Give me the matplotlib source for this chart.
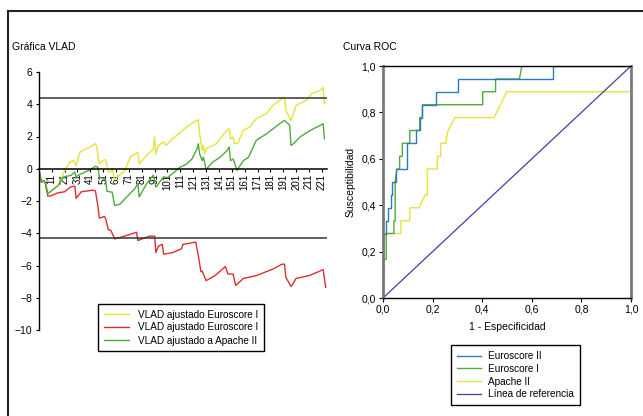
import matplotlib
matplotlib.use('Agg')
import matplotlib.pyplot as plt
from matplotlib.lines import Line2D

plt.rcParams['font.family'] = ['Liberation Sans', 'DejaVu Sans']
plt.rcParams['axes.unicode_minus'] = True

# VLAD curves (patient index -> cumulative value), vertices only
vlad_euro_idx = [1, 3, 5, 6, 8, 16, 18, 20, 25, 28,
                 30, 33, 43, 45, 46, 48, 51, 53, 55, 57,
                 58, 60, 68, 72, 78, 79, 85, 90, 91, 92,
                 94, 98, 100, 105, 116, 123, 125, 126, 128, 129,
                 130, 131, 139, 147, 149, 150, 152, 153, 156, 157,
                 160, 165, 170, 178, 183, 188, 192, 193, 197, 201,
                 209, 213, 220, 222, 223, 224]
vlad_euro_val = [0, -0.83, -0.72, -0.83, -1.55, -1.04, -0.75, -0.31, 0.41, 0.52,
                 0.2, 1.03, 1.45, 1.55, 1.35, 0.3, 0.52, 0.56, -0.2, -0.2,
                 0.0, -0.68, -0.1, 0.72, 1.03, 0.31, 0.83, 1.24, 1.97, 0.93,
                 1.45, 1.66, 1.45, 1.86, 2.59, 2.96, 3.04, 2.17, 1.14, 1.45,
                 0.93, 1.24, 1.55, 2.38, 2.48, 1.86, 1.97, 1.55, 1.6, 1.86,
                 2.38, 2.59, 3.1, 3.42, 3.93, 4.24, 4.45, 3.62, 3.0, 3.93,
                 4.24, 4.66, 4.87, 5.03, 4.04, 4.1]

vlad_red_idx = [1, 3, 5, 6, 8, 10, 16, 21, 26, 29,
                30, 34, 43, 45, 47, 48, 52, 53, 55, 57,
                60, 66, 77, 78, 87, 91, 92, 94, 97, 98,
                105, 112, 113, 123, 125, 127, 128, 131, 138, 146,
                148, 152, 154, 160, 170, 183, 190, 192, 193, 197,
                198, 201, 211, 220, 222, 224]
vlad_red_val = [0, -0.83, -0.75, -0.9, -1.69, -1.69, -1.49, -1.43, -1.12, -1.08,
                -1.84, -1.43, -1.33, -1.37, -2.35, -3.06, -2.96, -3.1, -3.78, -3.82,
                -4.35, -4.22, -3.94, -4.45, -4.18, -4.18, -5.2, -4.8, -4.69, -5.3,
                -5.2, -4.96, -4.69, -4.55, -5.4, -6.39, -6.35, -6.94, -6.63, -6.06,
                -6.53, -6.53, -7.24, -6.8, -6.63, -6.22, -5.92, -5.92, -6.73, -7.3,
                -7.2, -6.8, -6.63, -6.33, -6.25, -7.35]

vlad_apache_idx = [1, 3, 5, 6, 8, 16, 20, 26, 29, 30,
                   33, 40, 45, 47, 48, 51, 53, 54, 58, 60,
                   64, 76, 78, 79, 85, 90, 92, 98, 101, 111,
                   116, 120, 124, 125, 126, 128, 129, 131, 136, 142,
                   147, 149, 150, 152, 153, 155, 160, 164, 170, 178,
                   190, 192, 196, 197, 199, 204, 212, 220, 222, 223]
vlad_apache_val = [0, -0.83, -0.72, -0.83, -1.55, -1.04, -0.52, -0.41, -0.2, -0.5,
                   -0.35, -0.1, 0.15, 0.1, -0.5, -0.62, -0.7, -1.4, -1.45, -2.28,
                   -2.2, -1.2, -0.9, -1.75, -0.9, -0.4, -1.14, -0.5, -0.55, 0.1,
                   0.3, 0.6, 1.24, 1.55, 0.93, 0.5, 0.72, -0.05, 0.4, 0.72,
                   1.1, 1.35, 0.5, 0.6, 0.4, -0.1, 0.5, 0.72, 1.76, 2.17,
                   2.9, 3.0, 2.7, 1.45, 1.55, 1.97, 2.38, 2.7, 2.8, 1.86]

vlad_limits = [4.4, -4.3]
vlad_ticks = list(range(11, 222, 10))

# ROC curves
fpr_euro2 = [0, 0, 0.013, 0.013, 0.02, 0.02, 0.031, 0.031, 0.038, 0.038,
             0.051, 0.051, 0.095, 0.095, 0.134, 0.134, 0.148, 0.148, 0.159, 0.159,
             0.215, 0.215, 0.304, 0.304, 0.684, 0.684, 1.0]
tpr_euro2 = [0, 0.278, 0.278, 0.333, 0.333, 0.389, 0.389, 0.444, 0.444, 0.5,
             0.5, 0.556, 0.556, 0.667, 0.667, 0.722, 0.722, 0.778, 0.778, 0.833,
             0.833, 0.889, 0.889, 0.944, 0.944, 1.0, 1.0]

fpr_euro1 = [0, 0.003, 0.003, 0.013, 0.013, 0.044, 0.044, 0.049, 0.049, 0.056,
             0.067, 0.067, 0.078, 0.078, 0.108, 0.108, 0.148, 0.148, 0.159, 0.159,
             0.402, 0.402, 0.454, 0.454, 0.55, 0.56, 1.0]
tpr_euro1 = [0, 0.111, 0.167, 0.167, 0.278, 0.278, 0.333, 0.333, 0.5, 0.556,
             0.556, 0.611, 0.611, 0.667, 0.667, 0.722, 0.722, 0.778, 0.778, 0.833,
             0.833, 0.889, 0.889, 0.944, 0.944, 1.0, 1.0]

fpr_apache = [0, 0.004, 0.072, 0.072, 0.108, 0.108, 0.145, 0.169, 0.179, 0.179,
              0.219, 0.219, 0.233, 0.233, 0.253, 0.262, 0.29, 0.448, 0.499, 1.0]
tpr_apache = [0, 0.278, 0.278, 0.333, 0.333, 0.389, 0.389, 0.444, 0.444, 0.556,
              0.556, 0.611, 0.611, 0.667, 0.667, 0.722, 0.778, 0.778, 0.889, 0.889]

roc_ticks = [0.0, 0.2, 0.4, 0.6, 0.8, 1.0]

YELLOW = '#e4e43a'
RED = '#dc3030'
GREEN = '#4fab3c'
BLUE = '#2b7bbd'
PURPLE = '#4a3aa5'

W, H = 643, 416
fig = plt.figure(figsize=(W / 100, H / 100), dpi=100)

# outer frame (top and left edges)
fig.add_artist(Line2D([8 / W, 1], [1 - 11 / H, 1 - 11 / H], transform=fig.transFigure,
                      color='#222222', lw=1.5))
fig.add_artist(Line2D([8 / W, 8 / W], [0, 1 - 11 / H], transform=fig.transFigure,
                      color='#222222', lw=1.5))

# ---- VLAD panel ----
ax1 = fig.add_axes([38.8 / W, 86 / H, (327 - 38.8) / W, 258 / H])
# move the x axis onto y=0 first: set_position rebuilds the ticks
ax1.spines['bottom'].set_position(('data', 0))
ax1.spines['top'].set_visible(False)
ax1.spines['right'].set_visible(False)
ax1.spines['bottom'].set_linewidth(1.1)
ax1.spines['left'].set_linewidth(1.0)

ax1.plot(vlad_euro_idx, vlad_euro_val, color=YELLOW, lw=1, label='VLAD ajustado Euroscore I')
ax1.plot(vlad_red_idx, vlad_red_val, color=RED, lw=1, label='VLAD ajustado Euroscore I')
ax1.plot(vlad_apache_idx, vlad_apache_val, color=GREEN, lw=1, label='VLAD ajustado a Apache II')
for lim in vlad_limits:
    ax1.axhline(lim, color='#333333', lw=1.1)

ax1.set_xlim(1, 225)
ax1.set_ylim(-10, 6)
ax1.set_yticks(range(-10, 7, 2))
ax1.set_xticks(vlad_ticks)
ax1.set_xticklabels([str(t) for t in vlad_ticks])
ax1.tick_params(axis='y', labelsize=7.5, length=2.5, pad=2)
ax1.tick_params(axis='x', labelsize=7, labelrotation=90, length=2, pad=1.5)
ax1.set_facecolor('none')

fig.text(12 / W, 1 - 47 / H, 'Gráfica VLAD', fontsize=7.5, va='center', ha='left')
ax1.legend(loc='upper left', bbox_to_anchor=(98 / W, 1 - 304 / H), bbox_transform=fig.transFigure,
           borderaxespad=0, fancybox=False, edgecolor='black', framealpha=1, fontsize=7.2,
           handlelength=2.5, labelspacing=0.3, borderpad=0.55, handletextpad=1.0)

# ---- ROC panel ----
ax2 = fig.add_axes([383 / W, (H - 298) / H, 248 / W, 232 / H])
ax2.plot(fpr_apache, tpr_apache, color=YELLOW, lw=1, label='Apache II')
ax2.plot(fpr_euro1, tpr_euro1, color=GREEN, lw=1, label='Euroscore I')
ax2.plot(fpr_euro2, tpr_euro2, color=BLUE, lw=1, label='Euroscore II')
ax2.plot([0, 1], [0, 1], color=PURPLE, lw=0.9, label='Línea de referencia')

ax2.set_xlim(0, 1)
ax2.set_ylim(0, 1)
ax2.set_xticks(roc_ticks)
ax2.set_yticks(roc_ticks)
ax2.set_xticklabels([f'{t:.1f}'.replace('.', ',') for t in roc_ticks])
ax2.set_yticklabels([f'{t:.1f}'.replace('.', ',') for t in roc_ticks])
ax2.tick_params(labelsize=7.5, length=3, pad=2)
for side in ('left', 'right'):
    ax2.spines[side].set_color('#7a7a7a')
    ax2.spines[side].set_linewidth(2)
for side in ('top', 'bottom'):
    ax2.spines[side].set_color('black')
    ax2.spines[side].set_linewidth(1)
ax2.set_xlabel('1 - Especificidad', fontsize=7.5, labelpad=5)
ax2.set_ylabel('Susceptibilidad', fontsize=7.5, labelpad=4)

fig.text(343 / W, 1 - 47 / H, 'Curva ROC', fontsize=7.5, va='center', ha='left')
handles, labels = ax2.get_legend_handles_labels()
order = [2, 1, 0, 3]
ax2.legend([handles[i] for i in order], [labels[i] for i in order],
           loc='upper left', bbox_to_anchor=(451 / W, 1 - 345 / H), bbox_transform=fig.transFigure,
           borderaxespad=0, fancybox=False, edgecolor='black', framealpha=1, fontsize=7.2,
           handlelength=2.4, labelspacing=0.28, borderpad=0.6, handletextpad=0.7)

fig.savefig('out.png', dpi=100)
